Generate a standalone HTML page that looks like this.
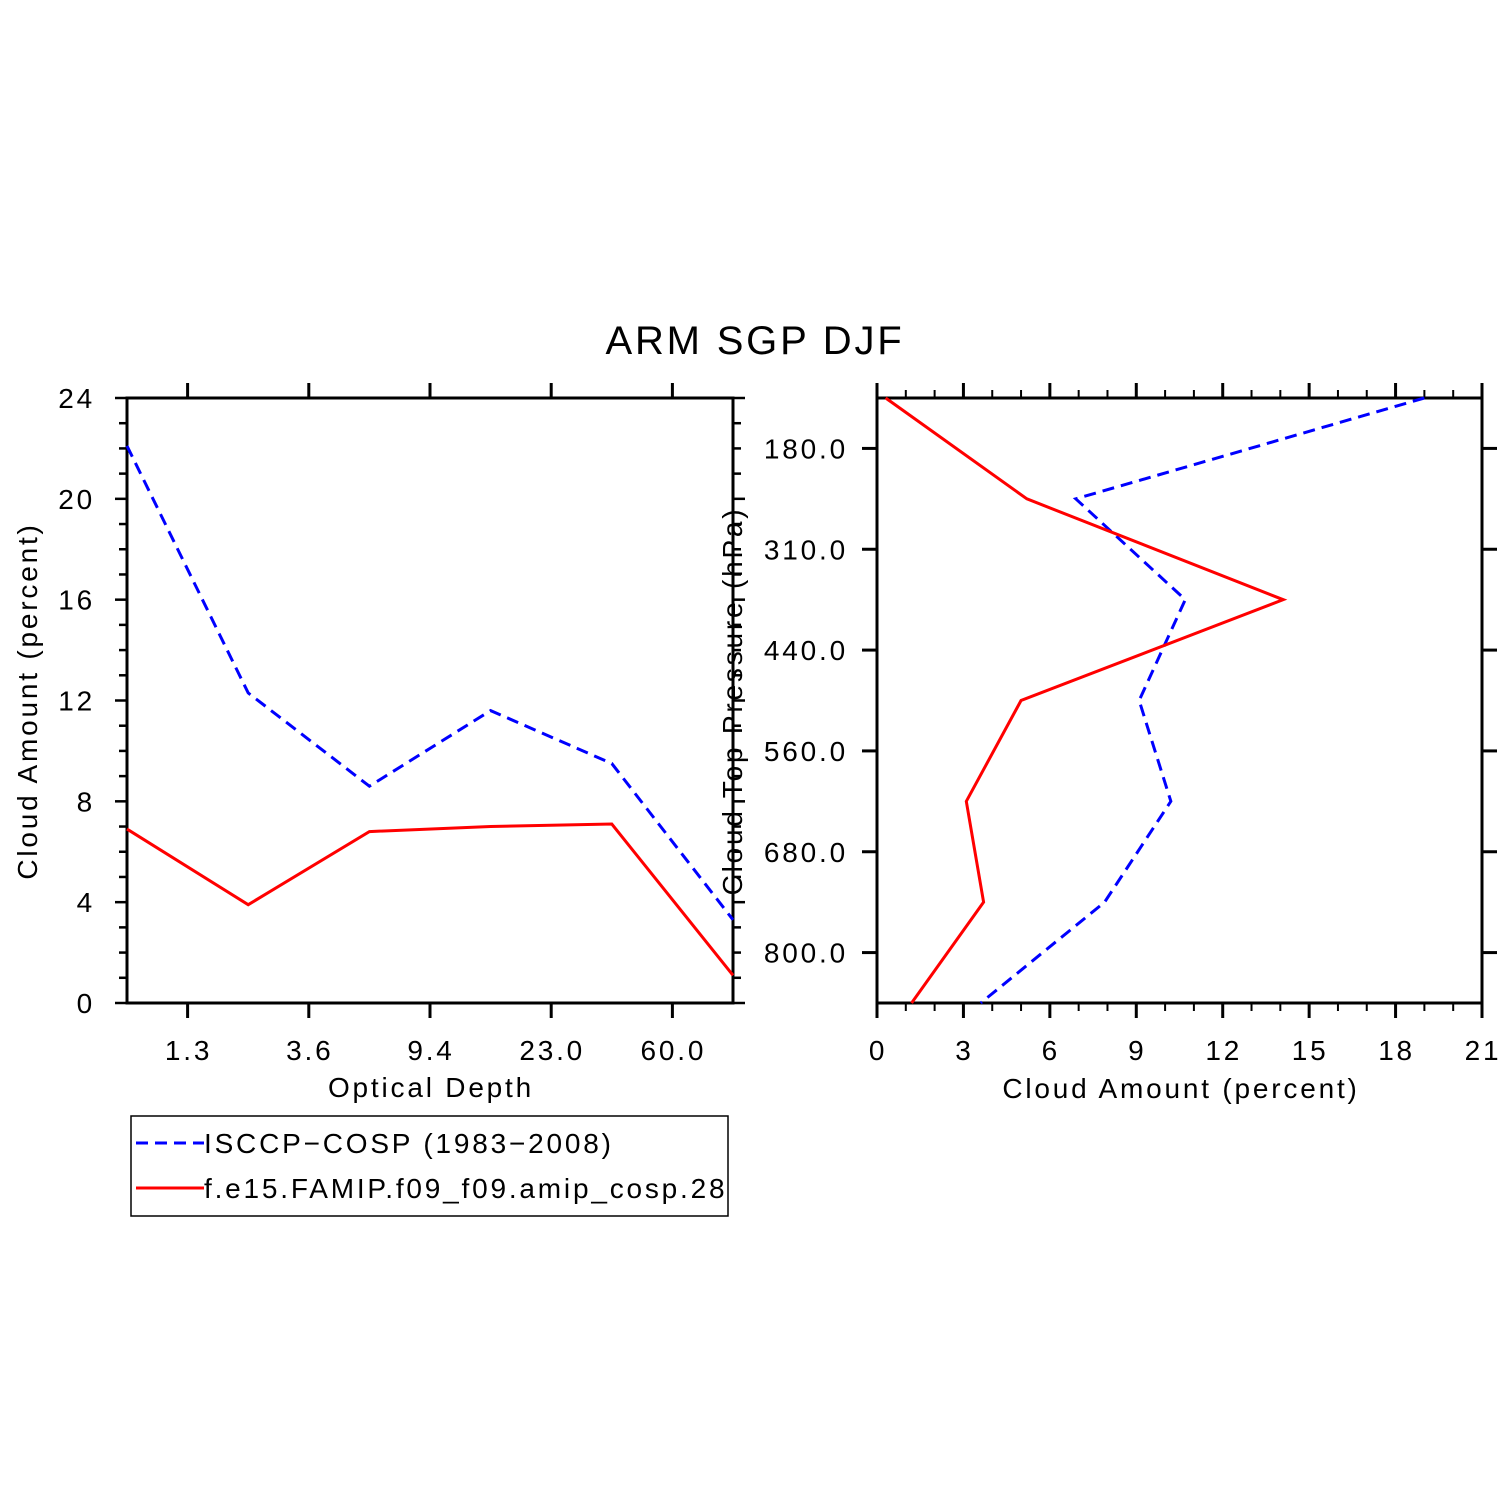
<!DOCTYPE html>
<html><head><meta charset="utf-8"><style>
html,body{margin:0;padding:0;background:#fff;}
svg{display:block;font-family:"Liberation Sans",sans-serif;}
text{letter-spacing:2.8px;}
</style></head><body>
<svg id="chart" width="1510" height="1510" viewBox="0 0 1510 1510">
<text x="755" y="354" font-size="40" text-anchor="middle">ARM SGP DJF</text>
<g id="left"></g><g id="right"></g>
<g>
<rect x="131" y="1116" width="597" height="100" fill="none" stroke="#000" stroke-width="1.5"/>
<line x1="136" y1="1143" x2="204" y2="1143" stroke="#0000ff" stroke-width="3" stroke-dasharray="12,7"/>
<text x="204" y="1153" font-size="28">ISCCP−COSP (1983−2008)</text>
<line x1="136" y1="1188" x2="204" y2="1188" stroke="#ff0000" stroke-width="3"/>
<text x="204" y="1198" font-size="28">f.e15.FAMIP.f09_f09.amip_cosp.28</text>
</g>
</svg>
<script>
const tauLabels=["1.3","3.6","9.4","23.0","60.0"];
const tauObs=[22.1,12.3,8.6,11.6,9.5,3.3];
const tauModel=[6.9,3.9,6.8,7.0,7.1,1.1];
const presLabels=["180.0","310.0","440.0","560.0","680.0","800.0"];
const presObs=[19.0,6.9,10.7,9.1,10.2,7.9,3.6];
const presModel=[0.3,5.2,14.1,5.0,3.1,3.7,1.2];
const leftYTicks=[0,4,8,12,16,20,24];
const rightXTicks=[0,3,6,9,12,15,18,21];

const NS="http://www.w3.org/2000/svg";
function mk(parent,tag,attrs){const e=document.createElementNS(NS,tag);for(const k in attrs)e.setAttribute(k,attrs[k]);parent.appendChild(e);return e;}
function ln(p,x1,y1,x2,y2,w){return mk(p,'line',{x1,y1,x2,y2,stroke:'#000','stroke-width':w||3});}
function tx(p,x,y,s,anchor,size){const t=mk(p,'text',{x,y,'font-size':size||28,'text-anchor':anchor||'middle'});t.textContent=s;return t;}

// Left panel
const L=document.getElementById('left');


const lx0=127,lx1=733,ly0=398,ly1=1003;
const lX=i=>lx0+(lx1-lx0)*i/5;
const lY=v=>ly1-(ly1-ly0)*v/24;
mk(L,'rect',{x:lx0,y:ly0,width:lx1-lx0,height:ly1-ly0,fill:'none',stroke:'#000','stroke-width':3});
for(let v=0;v<=24;v++){const maj=v%4===0;const len=maj?12:8;
 ln(L,lx0-len,lY(v),lx0,lY(v),2.5);ln(L,lx1,lY(v),lx1+len,lY(v),2.5);}
leftYTicks.forEach(v=>{const t=tx(L,95,lY(v)+10,String(v),'end');
 
 });
tauLabels.forEach((s,i)=>{const x=lX(i+0.5);ln(L,x,ly0-15,x,ly0,3);ln(L,x,ly1,x,ly1+15,3);
 const t=tx(L,x+1,1060,s);
 
 });
const lxt=tx(L,431,1097,'Optical Depth');


const lyt=tx(L,0,0,'Cloud Amount (percent)');lyt.setAttribute('transform','translate(37,701) rotate(-90)');


const lo=mk(L,'polyline',{points:tauObs.map((v,i)=>lX(i)+','+lY(v)).join(' '),fill:'none',stroke:'#0000ff','stroke-width':3,'stroke-dasharray':'12,7'});


const lm=mk(L,'polyline',{points:tauModel.map((v,i)=>lX(i)+','+lY(v)).join(' '),fill:'none',stroke:'#ff0000','stroke-width':3});



// Right panel
const R=document.getElementById('right');


const rx0=877,rx1=1482,ry0=398,ry1=1003;
const rX=v=>rx0+(rx1-rx0)*v/21;
const rY=i=>ry0+(ry1-ry0)*i/6;
mk(R,'rect',{x:rx0,y:ry0,width:rx1-rx0,height:ry1-ry0,fill:'none',stroke:'#000','stroke-width':3});
for(let v=0;v<=21;v++){const maj=v%3===0;const len=maj?15:8;
 ln(R,rX(v),ry0-len,rX(v),ry0,maj?3:2);ln(R,rX(v),ry1,rX(v),ry1+len,maj?3:2);}
rightXTicks.forEach(v=>{const t=tx(R,rX(v)+1,1060,String(v));
 
 });
presLabels.forEach((s,i)=>{const y=rY(i+0.5);ln(R,rx0-15,y,rx0,y,3);ln(R,rx1,y,rx1+15,y,3);
 const t=tx(R,848,y+10,s,'end');
 
 });
const rxt=tx(R,1181,1098,'Cloud Amount (percent)');


const ryt=tx(R,0,0,'Cloud Top Pressure (hPa)');ryt.setAttribute('transform','translate(742,701) rotate(-90)');


const ro=mk(R,'polyline',{points:presObs.map((v,i)=>rX(v)+','+rY(i)).join(' '),fill:'none',stroke:'#0000ff','stroke-width':3,'stroke-dasharray':'12,7'});


const rm=mk(R,'polyline',{points:presModel.map((v,i)=>rX(v)+','+rY(i)).join(' '),fill:'none',stroke:'#ff0000','stroke-width':3});


</script>
</body></html>
